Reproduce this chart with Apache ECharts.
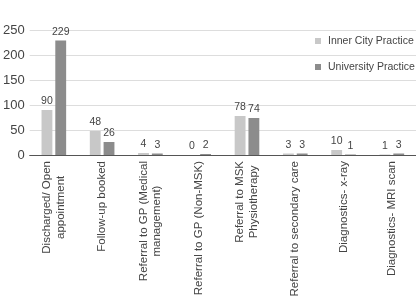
<!DOCTYPE html>
<html><head><meta charset="utf-8">
<script src="https://cdn.jsdelivr.net/npm/echarts@6/dist/echarts.min.js"></script>
<style>html,body{margin:0;padding:0;background:#fff}#c{width:416px;height:302px}</style>
</head><body><div id="c"></div>
<script>
var categories = ["Discharged/ Open\nappointment","Follow-up booked","Referral to GP (Medical\nmanagement)","Referral to GP (Non-MSK)","Referral to MSK\nPhysiotherapy","Referral to secondary care","Diagnostics- x-ray","Diagnostics- MRI scan"];
var innerCity = [90,48,4,0,78,3,10,1];
var university = [229,26,3,2,74,3,1,3];
var yTicks = {min:0,max:250,interval:50};
var chart = echarts.init(document.getElementById('c'));
var font = 'Liberation Sans, Arial, sans-serif';
chart.setOption({
  animation:false,
  grid:{left:27,right:-3,top:30,bottom:147,containLabel:false},
  legend:{orient:'vertical',left:315,top:35,itemWidth:6,itemHeight:6,itemGap:14,icon:'rect',
    padding:0,
    textStyle:{fontFamily:font,fontSize:10.5,lineHeight:12,color:'#444',padding:[0,0,0,2]},
    data:['Inner City Practice','University Practice']},
  xAxis:{type:'category',data:categories,
    axisLine:{lineStyle:{color:'#555',width:1}},axisTick:{show:false},
    axisLabel:{rotate:90,interval:0,margin:6,fontFamily:font,fontSize:11.5,color:'#444',lineHeight:13.5,
      formatter:function(v){return v.split('\n').map(function(s){return '{c|'+s+'}';}).join('\n');},
      rich:{c:{align:'center',fontFamily:font,fontSize:11.5,color:'#444',lineHeight:13.5}}}},
  yAxis:{type:'value',min:yTicks.min,max:yTicks.max,interval:yTicks.interval,
    axisLine:{show:false},axisTick:{show:false},
    axisLabel:{fontFamily:font,fontSize:13,color:'#444',margin:5},
    splitLine:{lineStyle:{color:'#ddd'}}},
  series:[
    {name:'Inner City Practice',type:'bar',data:innerCity,barGap:'27%',barCategoryGap:'49%',
      itemStyle:{color:'#c8c8c8'},
      label:{show:true,position:'top',distance:3,fontFamily:font,fontSize:10.5,color:'#444'}},
    {name:'University Practice',type:'bar',data:university,
      itemStyle:{color:'#8c8c8c'},
      label:{show:true,position:'top',distance:3,fontFamily:font,fontSize:10.5,color:'#444'}}
  ]
});
</script></body></html>
